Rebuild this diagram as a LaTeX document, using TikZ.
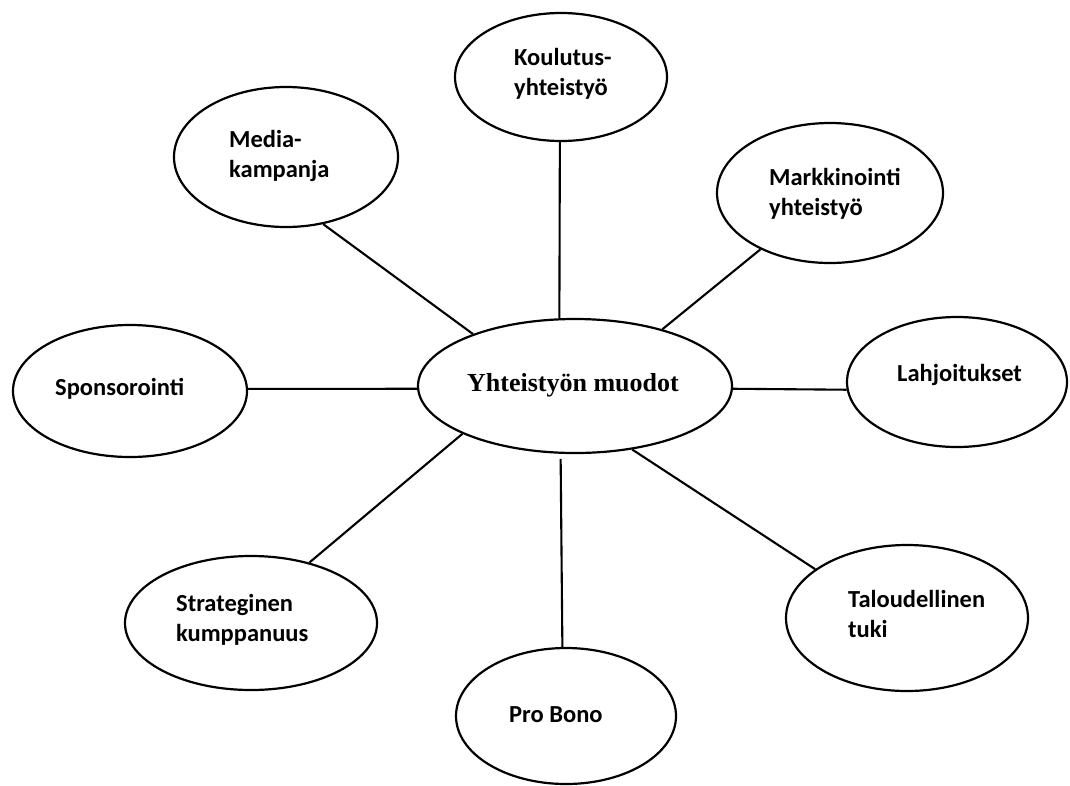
\documentclass[tikz,border=0pt]{standalone}
\usepackage{fontspec}
\setmainfont{Carlito}
\newfontfamily\serifb{Liberation Serif}
\usetikzlibrary{shapes.geometric}
\newcommand\twolines[2]{\vtop{\baselineskip=30pt\hbox{#1}\hbox{#2}}}
\begin{document}
\begin{tikzpicture}[x=1pt,y=-1pt,
  oval/.style={draw, line width=2.2pt, ellipse, inner sep=0pt},
  lbl/.style={anchor=base west, inner sep=0pt, font=\fontsize{24.5}{30}\selectfont\bfseries},
  link/.style={line width=2.1pt}]
\useasboundingbox (0,0) rectangle (1070,785);
% centre
\node[oval, minimum width=314pt, minimum height=134pt] (c) at (575,386) {};
\node[inner sep=0pt, anchor=base, font=\serifb\fontsize{26}{30}\selectfont\bfseries] (ct) at (573,391) {Yhteistyön muodot};
% outer ellipses
\node[oval, minimum width=212pt, minimum height=128pt] (k) at (561,77) {};
\node[lbl] (kt) at (514,65) {\twolines{Koulutus-}{yhteistyö}};
\node[oval, minimum width=224pt, minimum height=140pt] (m) at (286,157) {};
\node[lbl] (mt) at (229,147) {\twolines{Media-}{kampanja}};
\node[oval, minimum width=226pt, minimum height=140pt] (mk) at (830,193) {};
\node[lbl] (mkt) at (769,185) {\twolines{Markkinointi}{yhteistyö}};
\node[oval, minimum width=234pt, minimum height=132pt] (s) at (130,391) {};
\node[lbl] (st) at (55,395) {Sponsorointi};
\node[oval, minimum width=220pt, minimum height=130pt] (l) at (957,382) {};
\node[lbl] (lt) at (897,381) {Lahjoitukset};
\node[oval, minimum width=252pt, minimum height=134pt] (sk) at (251,623) {};
\node[lbl] (skt) at (176,611) {\twolines{Strateginen}{kumppanuus}};
\node[oval, minimum width=242pt, minimum height=146pt] (t) at (907,618) {};
\node[lbl] (tt) at (848,607) {\twolines{Taloudellinen}{tuki}};
\node[oval, minimum width=220pt, minimum height=136pt] (p) at (566,716) {};
\node[lbl] (pt) at (509,722) {Pro Bono};
% connectors
\draw[link] (c.103) -- (k.269);
\draw[link] (c.153) -- (m.299);
\draw[link] (c.33) -- (mk.219);
\draw[link] (c.181) -- (s.1);
\draw[link] (c.359) -- (l.184);
\draw[link] (c.203) -- (sk.46);
\draw[link] (c.312) -- (t.152);
\draw[link, shorten <=5pt] (c.258) -- (p.93);
\end{tikzpicture}
\end{document}
